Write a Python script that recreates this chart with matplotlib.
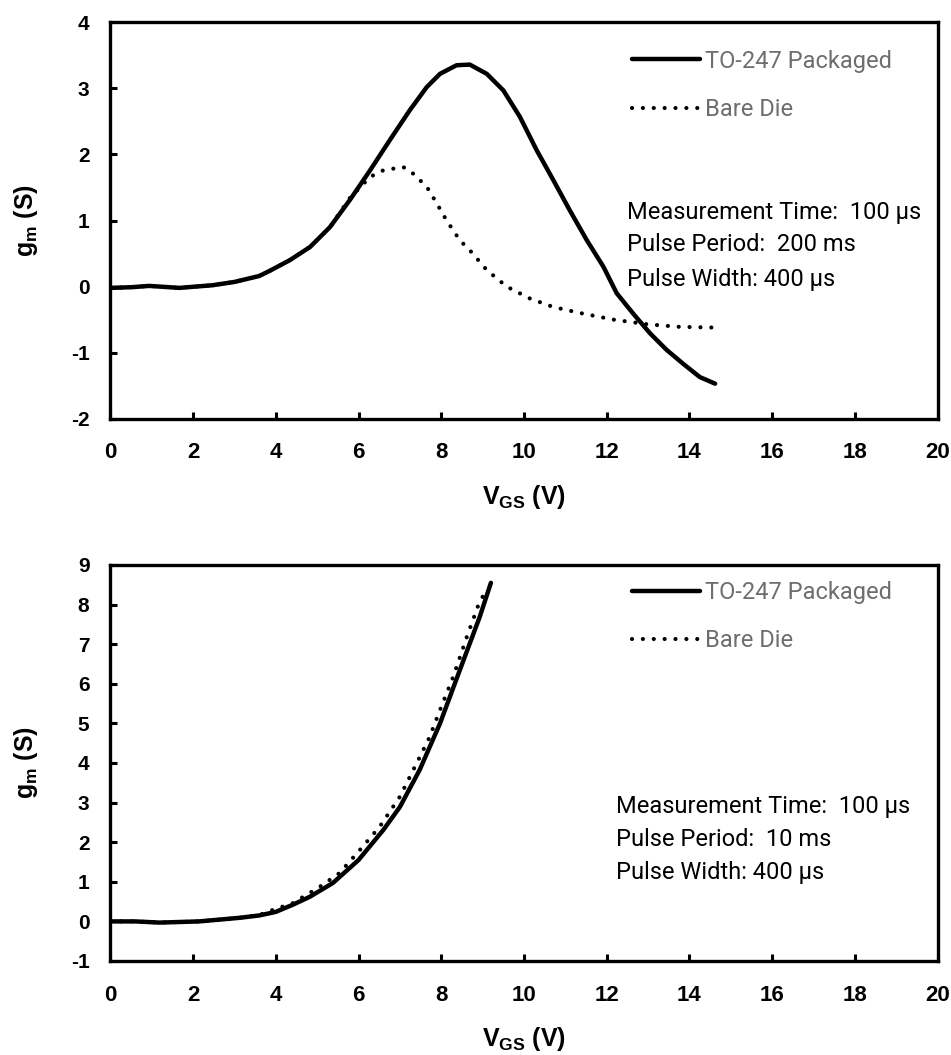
import matplotlib
matplotlib.use("Agg")
import matplotlib.pyplot as plt
from matplotlib.lines import Line2D

plt.rcParams['axes.unicode_minus'] = False
plt.rcParams['mathtext.fontset'] = 'custom'
plt.rcParams['mathtext.rm'] = 'Liberation Sans:bold'
plt.rcParams['mathtext.it'] = 'Liberation Sans:bold'
plt.rcParams['mathtext.bf'] = 'Liberation Sans:bold'

# ---------------- data ----------------
# Top panel: pulse period 200 ms
top_pkg_x = [0.0, 0.5, 0.94, 1.67, 2.47, 3.0, 3.6, 3.86, 4.34, 4.83, 5.31, 5.79, 6.28,
             6.76, 7.24, 7.65, 7.97, 8.37, 8.69, 9.10, 9.50, 9.90, 10.31, 10.71, 11.11,
             11.52, 11.92, 12.24, 12.64, 13.05, 13.45, 13.85, 14.25, 14.62]
top_pkg_y = [-0.02, -0.01, 0.01, -0.02, 0.02, 0.07, 0.16, 0.24, 0.40, 0.60, 0.90, 1.31, 1.76,
             2.22, 2.67, 3.02, 3.22, 3.35, 3.36, 3.22, 2.97, 2.57, 2.06, 1.61, 1.15,
             0.70, 0.30, -0.10, -0.41, -0.71, -0.96, -1.17, -1.37, -1.47]
top_die_x = [0.0, 0.5, 0.94, 1.67, 2.47, 3.0, 3.6, 3.86, 4.34, 4.83, 5.31, 5.79, 6.28,
             6.60, 7.08, 7.32, 7.65, 7.89, 8.13, 8.45, 8.69, 9.10, 9.58, 10.14, 10.71,
             11.43, 12.16, 12.97, 13.77, 14.58]
top_die_y = [-0.02, -0.01, 0.01, -0.02, 0.02, 0.07, 0.16, 0.24, 0.40, 0.60, 0.90, 1.34, 1.66,
             1.76, 1.81, 1.71, 1.51, 1.26, 1.00, 0.70, 0.55, 0.25, 0.00, -0.18, -0.31,
             -0.41, -0.50, -0.57, -0.61, -0.62]

# Bottom panel: pulse period 10 ms
bot_pkg_x = [0.0, 0.6, 1.19, 2.15, 3.12, 3.6, 4.0, 4.41, 4.82, 5.38, 6.0, 6.6, 7.0,
             7.48, 7.97, 8.45, 8.93, 9.2]
bot_pkg_y = [0.0, 0.0, -0.03, 0.0, 0.09, 0.15, 0.24, 0.42, 0.62, 0.97, 1.55, 2.31, 2.89,
             3.83, 5.0, 6.35, 7.69, 8.55]
bot_die_x = [0.0, 0.6, 1.19, 2.15, 3.12, 3.6, 3.93, 4.41, 5.06, 5.54, 6.03, 6.51, 7.0,
             7.48, 7.72, 7.97, 8.29, 8.62, 8.89, 9.0]
bot_die_y = [0.0, 0.0, -0.03, 0.0, 0.09, 0.16, 0.29, 0.46, 0.87, 1.22, 1.8, 2.39, 3.15,
             4.15, 4.66, 5.34, 6.18, 7.19, 7.97, 8.2]

x_ticks = [0, 2, 4, 6, 8, 10, 12, 14, 16, 18, 20]
top_y_ticks = [-2, -1, 0, 1, 2, 3, 4]
bot_y_ticks = [-1, 0, 1, 2, 3, 4, 5, 6, 7, 8, 9]

series_labels = ["TO-247 Packaged", "Bare Die"]
top_notes = ["Measurement Time:  100 µs", "Pulse Period:  200 ms", "Pulse Width: 400 µs"]
bot_notes = ["Measurement Time:  100 µs", "Pulse Period:  10 ms", "Pulse Width: 400 µs"]

# ---------------- figure ----------------
W, H = 951, 1055
fig = plt.figure(figsize=(W / 100, H / 100), dpi=100)

ax1 = fig.add_axes([110.3 / W, 1 - 418.7 / H, (937.7 - 110.3) / W, (418.7 - 22.3) / H])
ax2 = fig.add_axes([110.3 / W, 1 - 961 / H, (937.7 - 110.3) / W, (961 - 565) / H])

solid_kw = dict(color='black', lw=3.2, solid_capstyle='round', solid_joinstyle='round')
dot_kw = dict(color='black', lw=3.0, linestyle=(0, (0.01, 2.6)), dash_capstyle='round')

note_font = dict(family='Roboto', size=17)


def style(ax, yticks, legend_anchor, note_x, note_ys, notes):
    ax.set_xlim(0, 20)
    ax.set_ylim(yticks[0], yticks[-1])
    ax.set_xticks(x_ticks)
    ax.set_yticks(yticks)
    for s in ax.spines.values():
        s.set_linewidth(2.4)
        s.set_color('black')
    ax.tick_params(axis='both', direction='in', length=5, width=2.2, top=False, right=False)
    ax.tick_params(axis='x', pad=17, labelsize=16)
    ax.tick_params(axis='y', pad=15, labelsize=15)
    for lab in ax.get_xticklabels() + ax.get_yticklabels():
        lab.set_fontfamily('Liberation Sans')
        lab.set_fontweight('bold')
    ax.set_xlabel(r'$\mathrm{V_{GS}}$ (V)', fontsize=18, fontweight='bold',
                  fontfamily='Liberation Sans')
    ax.set_ylabel(r'$\mathrm{g_m}$ (S)', fontsize=18, fontweight='bold',
                  fontfamily='Liberation Sans')
    ax.xaxis.set_label_coords(0.5, -0.162)
    ax.yaxis.set_label_coords(-0.085, 0.5)
    handles = [Line2D([], [], **solid_kw), Line2D([], [], **dot_kw)]
    ax.legend(handles, series_labels, loc='upper left', bbox_to_anchor=legend_anchor,
              frameon=False, borderpad=0, borderaxespad=0, handlelength=2.9,
              handletextpad=0.2, labelspacing=1.07, prop=note_font, labelcolor='#6e6e6e')
    for t, yy in zip(notes, note_ys):
        ax.text(note_x, yy, t, transform=ax.transAxes, ha='left', va='baseline',
                color='black', fontfamily='Roboto', fontsize=17)


ax1.plot(top_pkg_x, top_pkg_y, **solid_kw)
ax1.plot(top_die_x, top_die_y, **dot_kw)
style(ax1, top_y_ticks, (0.630, 0.931), 0.624, [0.505, 0.422, 0.336], top_notes)

ax2.plot(bot_pkg_x, bot_pkg_y, **solid_kw)
ax2.plot(bot_die_x, bot_die_y, **dot_kw)
style(ax2, bot_y_ticks, (0.630, 0.960), 0.6115, [0.3745, 0.290, 0.207], bot_notes)

fig.savefig('out.png', dpi=100)
